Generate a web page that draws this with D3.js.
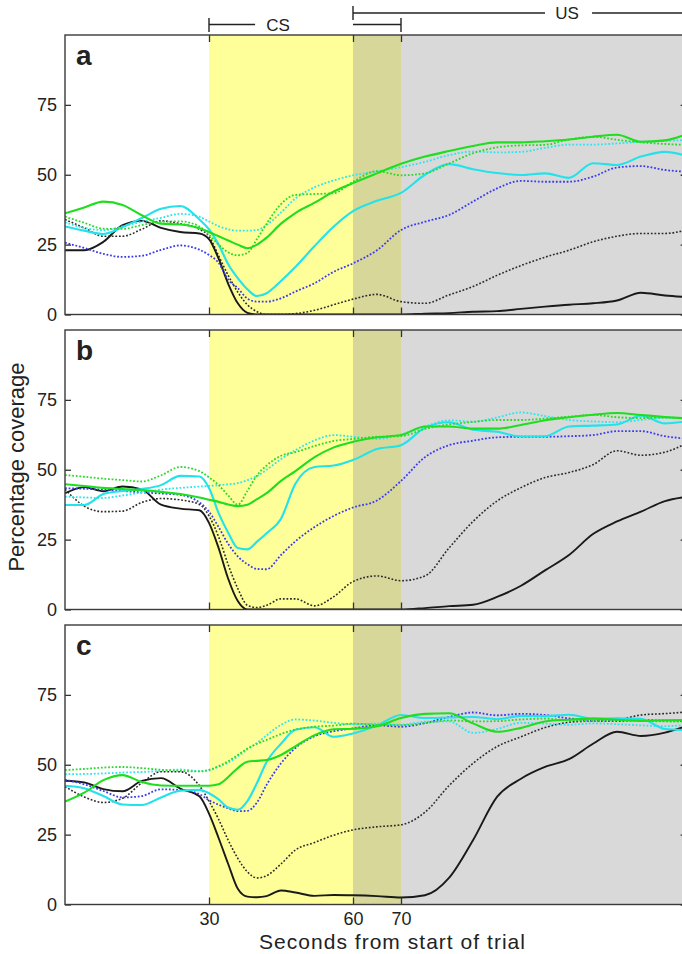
<!DOCTYPE html>
<html>
<head>
<meta charset="utf-8">
<script src="https://cdn.jsdelivr.net/npm/d3@7"></script>
<style>
  body { margin: 0; background: #fff; }
  text { font-family: "Liberation Sans", Arial, sans-serif; fill: #222; }
</style>
</head>
<body>
<div id="chart"></div>
<script>
// sample times (seconds from start of trial), shared by all series
var time = [0,4,8,12,16,20,24,28,30,32,34,36,38,40,42,45,48,52,56,60,65,70,75,80,85,90,95,100,105,110,115,120,125,129];

// panel a
var blackSolidA = [23,23,26,32,33.5,31,29.5,29,27,20,11,4,0.6,0,0,0,0,0,0,0,0,0,0.3,0.5,1,1.2,2,2.8,3.5,4,5,7.8,6.8,6.3];
var blackDotA   = [34,31,28,28,30.5,33.5,32.5,30.5,28,21,14,8,3.5,1,0,0,0.3,1.5,3.5,5.5,7.2,4.6,4,7,10,14,17.5,20.5,23,26,28,29,29,30];
var blueDotA    = [25.7,23.8,21.7,20.6,21,23.1,24.7,23.2,21.3,18.5,12.5,9.4,5.7,4.6,4.6,5.8,8.2,11.2,15.3,18.3,23,30.2,33.2,35.6,40.4,45.1,47.8,47.5,47.5,49.3,52.6,53.1,51.7,51.1];
var cyanSolidA  = [31.5,30,28.8,31.3,34.5,37.8,38.8,34,30.5,25,18,13,9,6.6,7.6,12,17,24.5,31.5,37,40.7,43.5,50,53.8,52,50.6,49.9,50.5,48.9,54.1,53.5,56.5,58.2,57];
var cyanDotA    = [33,31,30.2,31.5,33.2,34.6,36,35,33.3,31.6,30.5,30,30,30.2,32,36.5,41.5,45.5,48,49.8,51.2,52.7,54.6,57,58.3,58,58.2,59.6,60.8,60.8,61.2,61.8,62.1,62.4];
var greenSolidA = [36.2,38.3,40.4,39.2,35.5,32.5,32.2,30.9,29.5,28,26.5,25,23.7,25,27.5,32.5,36.3,40,44,47,50.5,53.9,56.5,58.5,60.3,61.6,61.6,62,62.6,63.6,64.3,61.8,62.3,64.2];
var greenDotA   = [35,32.8,30.7,30.6,32,33.2,33.3,31.5,28.5,25,22.2,21.2,22,27,32.5,39.5,42.8,43.1,43.4,47.5,51.3,49.8,50.5,54,57.7,59.8,60.5,60.7,62.6,63.6,62.5,61.6,61,60.7];

// panel b
var blackSolidB = [41.6,43.8,42.3,44,43,37.5,36.1,35.5,31,22,11,3,0,0,0,0,0,0,0,0,0,0,0.5,1.2,1.7,4.5,8.5,14,19.5,27,31.5,35,38.8,40.2];
var blackDotB   = [43,37,35,35.2,38.3,39.7,39.2,37.6,33.5,26,16,7.5,1.5,0.7,1.5,3.8,3.8,1.3,4.6,10,12,10.3,12,22,31.5,38.8,43.6,47.2,49,51.8,56.8,55.2,56.3,59];
var blueDotB    = [43.4,43.2,42.9,42.4,41.9,41.5,41,38.3,35,29.5,23.5,19,16.2,14.5,14.4,19.5,24.4,29.5,33.5,36.5,39,46,54.5,58.8,60.4,61.6,61.8,61.8,62,62.4,63.8,63.8,62,61.2];
var cyanSolidB  = [37.4,37.4,41.3,42.4,43.1,44.5,47.8,47.6,43.5,34.5,27.5,22,21.5,24.3,27.3,32.5,45,51,51.5,53.5,57.4,58.8,65,67,64.3,63.6,61.9,62,65.5,65.8,66.2,69.3,66.6,67.2];
var cyanDotB    = [40.4,40.1,39.9,40.8,41.8,42.9,43.5,44,44.2,44.5,44.8,45.2,46.3,47.7,50,53.8,57,60.5,62.4,61.8,61,62.6,65.5,67.7,67.2,68.7,70.5,69.2,67.8,67.3,67,67.8,68.6,68.4];
var greenSolidB = [44.8,44.2,43.5,43.1,42.7,42.1,41.3,40.1,39.3,38.5,37.6,37,37.5,39.5,41.6,46,49.5,54.5,58,60,61.6,62.4,65.5,65.5,64.7,64.7,66,67.7,68.8,69.7,70.3,69.6,68.9,68.4];
var greenDotB   = [48.1,47.5,46.8,46.3,45.8,48,51,49.5,47.3,44.5,40.8,37.5,42.5,48,51.5,55,56.3,58.5,60.3,61,61.8,62,64.6,66.2,67.1,67.8,67.8,68.3,69,69.6,68.8,68.5,68.7,68.4];

// panel c
var blackSolidC = [44.3,43.7,41.3,40.5,44.2,45.2,41.5,38.7,32.5,23.8,14.5,5.6,2.8,2.6,3,5,4.3,3.1,3.4,3.3,3,2.5,3.3,9.5,23,38.5,45,49.2,52,57.5,61.8,60.3,61.5,63.6];
var blackDotC   = [42.2,38.5,36.5,38,43.5,47.5,47.5,42.5,37,30.5,23,16.5,11.7,9.5,10.3,14.5,19.5,22.2,24.8,26.7,27.8,28.5,33,42.5,50.5,56.5,60,63.3,65.2,65.7,66.1,67.8,68.3,68.8];
var blueDotC    = [44.6,43,40.6,38.3,38.8,41.2,41,39.5,37.3,35.7,34.4,33.4,33.5,36.5,42.8,50.5,56,60.2,62,63,64.1,63.6,64.9,67.1,68.7,67.7,68.2,67.8,66.6,65.7,65.6,66,65.8,65.7];
var cyanSolidC  = [42.5,41.6,38.8,35.8,35.6,38.3,40.7,41,39.8,37.6,34.7,33.9,37,43.5,51,57.5,62.5,63.4,60,61.2,64,67.8,66.7,66.9,67.1,66.3,67.5,67.4,67.9,66.5,66.6,66.4,62.8,62.4];
var cyanDotC    = [46.6,46.7,46.9,47.2,47.4,47.8,48.3,47.7,48,49.3,50.8,53,55.5,57.8,60.5,64.3,66.2,65.8,65,64.5,64.7,64.3,65.4,65.5,61.4,62.8,65,64.7,64.3,64.8,64.5,64.1,63.8,64.2];
var greenSolidC = [36.8,40,44.5,46.3,43.8,42.6,42.5,42.5,42.5,43,45.6,48.8,51.1,51.4,51.7,53.5,56.6,60.6,62.7,62.9,63.8,66.7,68.2,68.4,64.8,61.8,63.2,65.5,66.1,66.5,66.1,65.7,65.9,66];
var greenDotC   = [48.1,48.5,49,49.2,48.8,48.2,47.8,47.6,48.2,49.5,51.3,53.5,55.8,57.5,58.9,61,62.6,63.6,64,64.7,64.3,64.2,64.9,65.9,65.5,65.6,66.2,66.5,65.9,65.8,66,65.7,65.5,65.4];

var panelLabels = ["a", "b", "c"];
var yTicks = [0, 25, 50, 75];
var xTicks = [30, 60, 70];
// stimulus periods
var periods = [
  {from: 0,  to: 30,  fill: "#ffffff"},
  {from: 30, to: 60,  fill: "#ffff99"},
  {from: 60, to: 70,  fill: "#d8d79a"},
  {from: 70, to: 130, fill: "#d9d9d9"}
];

var panels = [
  [blackDotA, blackSolidA, blueDotA, cyanDotA, cyanSolidA, greenDotA, greenSolidA],
  [blackDotB, blackSolidB, blueDotB, cyanDotB, cyanSolidB, greenDotB, greenSolidB],
  [blackDotC, blackSolidC, blueDotC, cyanDotC, cyanSolidC, greenDotC, greenSolidC]
];
var styles = [
  {color: "#2b2b2b", dash: "1.8,1.8", w: 1.6},
  {color: "#1a1a1a", dash: null, w: 1.9},
  {color: "#3a3af0", dash: "1.8,1.8", w: 1.8},
  {color: "#2ae6ee", dash: "1.8,1.8", w: 1.8},
  {color: "#22e2ea", dash: null, w: 2.1},
  {color: "#2bd82b", dash: "1.8,1.8", w: 1.8},
  {color: "#1fde1f", dash: null, w: 2.1}
];

var svgWidth = 682, svgHeight = 954;
var panelTops = [35, 330, 625], panelH = 279.5;

var svg = d3.select("#chart").append("svg")
    .attr("width", svgWidth)
    .attr("height", svgHeight);

var x = d3.scaleLinear().domain([0, 129.5]).range([65, 686.6]);
var y = d3.scaleLinear().domain([0, 100]).range([panelH, 0]);

svg.append("defs").append("clipPath").attr("id", "plotClip")
  .append("rect")
    .attr("x", x(0)).attr("y", 0)
    .attr("width", x(129.5) - x(0)).attr("height", panelH);

var line = d3.line()
    .x(function(d, i) { return x(time[i]); })
    .y(function(d) { return y(d); })
    .curve(d3.curveMonotoneX);

panels.forEach(function(panelSeries, p) {
  var g = svg.append("g").attr("transform", "translate(0," + panelTops[p] + ")");
  var plot = g.append("g").attr("clip-path", "url(#plotClip)");

  plot.selectAll("rect.period").data(periods).enter().append("rect")
      .attr("class", "period")
      .attr("x", function(d) { return x(d.from); })
      .attr("y", 0)
      .attr("width", function(d) { return x(Math.min(d.to, 129.5)) - x(d.from); })
      .attr("height", panelH)
      .attr("fill", function(d) { return d.fill; });

  plot.selectAll("path.series").data(panelSeries).enter().append("path")
      .attr("class", "series")
      .attr("fill", "none")
      .attr("stroke", function(d, i) { return styles[i].color; })
      .attr("stroke-width", function(d, i) { return styles[i].w; })
      .attr("stroke-dasharray", function(d, i) { return styles[i].dash; })
      .attr("stroke-linejoin", "round")
      .attr("d", line);

  // axes with inward ticks, mirrored on top and right
  g.append("g").attr("transform", "translate(" + x(0) + ",0)")
      .call(d3.axisLeft(y).tickValues(yTicks).tickSizeInner(-6).tickSizeOuter(0).tickPadding(8));
  g.append("g").attr("transform", "translate(" + x(129.5) + ",0)")
      .call(d3.axisRight(y).tickValues(yTicks).tickSizeInner(-6).tickSizeOuter(0).tickFormat(""));
  g.append("g")
      .call(d3.axisTop(x).tickValues(xTicks).tickSizeInner(-7).tickSizeOuter(0).tickFormat(""));
  g.append("g").attr("transform", "translate(0," + panelH + ")")
      .call(d3.axisBottom(x).tickValues(xTicks).tickSizeInner(-7).tickSizeOuter(0).tickPadding(8)
        .tickFormat(p === 2 ? d3.format("d") : ""));

  g.selectAll(".domain").remove();
  g.selectAll(".tick line").attr("stroke", "#333").attr("stroke-width", 1.3);
  g.selectAll(".tick text").style("font-size", "18px").style("font-family", "Liberation Sans, Arial, sans-serif").attr("fill", "#222");

  g.append("rect")
      .attr("x", x(0)).attr("y", 0)
      .attr("width", x(129.5) - x(0)).attr("height", panelH)
      .attr("fill", "none").attr("stroke", "#3a3a3a").attr("stroke-width", 1.4);

  g.append("text")
      .attr("x", 76).attr("y", 29.5)
      .style("font-size", "28px").style("font-weight", "bold")
      .text(panelLabels[p]);
});

// CS / US brackets above panel a
var ann = svg.append("g").attr("stroke", "#222").attr("stroke-width", 1.4).attr("fill", "none");
ann.append("line").attr("x1", x(30)).attr("x2", x(30)).attr("y1", 18).attr("y2", 32);
ann.append("line").attr("x1", x(30)).attr("x2", x(39.6)).attr("y1", 24.5).attr("y2", 24.5);
ann.append("line").attr("x1", x(60)).attr("x2", x(70)).attr("y1", 24.5).attr("y2", 24.5);
ann.append("line").attr("x1", x(70)).attr("x2", x(70)).attr("y1", 18).attr("y2", 32);
ann.append("line").attr("x1", x(60)).attr("x2", x(60)).attr("y1", 6).attr("y2", 20);
ann.append("line").attr("x1", x(60)).attr("x2", x(100)).attr("y1", 13).attr("y2", 13);
ann.append("line").attr("x1", x(109.8)).attr("x2", 690).attr("y1", 13).attr("y2", 13);

svg.append("text").attr("x", x(44.4)).attr("y", 30.5)
    .attr("text-anchor", "middle").style("font-size", "17px").text("CS");
svg.append("text").attr("x", x(104.6)).attr("y", 19)
    .attr("text-anchor", "middle").style("font-size", "17px").text("US");

// axis titles
svg.append("text")
    .attr("transform", "translate(24,467) rotate(-90)")
    .attr("text-anchor", "middle")
    .style("font-size", "22px")
    .text("Percentage coverage");
svg.append("text")
    .attr("x", 259).attr("y", 948.5)
    .attr("textLength", 266)
    .attr("lengthAdjust", "spacing")
    .style("font-size", "21px")
    .text("Seconds from start of trial");
</script>
</body>
</html>
